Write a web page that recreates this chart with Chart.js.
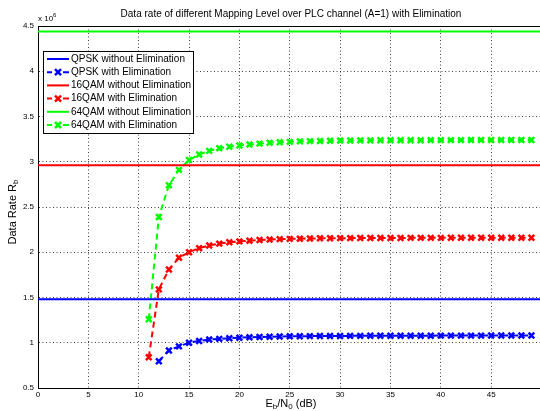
<!DOCTYPE html>
<html>
<head>
<meta charset="utf-8">
<script src="https://cdn.jsdelivr.net/npm/chart.js@4.4.1/dist/chart.umd.min.js"></script>
<style>
  html, body { margin: 0; padding: 0; background: #fff; overflow: hidden; }
  #wrap { width: 548px; height: 411px; }
</style>
</head>
<body>
<div id="wrap"><canvas id="chart" width="548" height="411"></canvas></div>
<script>
// Eb/N0 (dB) for the "with Elimination" curves
const ebn0 = [11, 12, 13, 14, 15, 16, 17, 18, 19, 20, 21, 22, 23, 24, 25, 26, 27, 28, 29, 30,
  31, 32, 33, 34, 35, 36, 37, 38, 39, 40, 41, 42, 43, 44, 45, 46, 47, 48, 49];

// data rate x 10^6
const qpskElim = [null, 0.795, 0.915, 0.96, 1.0, 1.02, 1.035, 1.043, 1.05, 1.056, 1.06, 1.064, 1.067,
  1.069, 1.071, 1.072, 1.073, 1.074, 1.075, 1.075, 1.076, 1.076, 1.077, 1.077, 1.077, 1.078, 1.078,
  1.078, 1.078, 1.079, 1.079, 1.079, 1.079, 1.079, 1.08, 1.08, 1.08, 1.08, 1.08];
const qam16Elim = [0.84, 1.59, 1.81, 1.94, 2.0, 2.045, 2.075, 2.095, 2.11, 2.12, 2.128, 2.135, 2.14,
  2.145, 2.148, 2.15, 2.152, 2.154, 2.155, 2.156, 2.156, 2.157, 2.157, 2.158, 2.158, 2.158, 2.159,
  2.159, 2.159, 2.159, 2.16, 2.16, 2.16, 2.16, 2.16, 2.16, 2.16, 2.16, 2.16];
const qam64Elim = [1.26, 2.39, 2.74, 2.91, 3.02, 3.08, 3.12, 3.15, 3.165, 3.18, 3.19, 3.2, 3.21,
  3.215, 3.22, 3.225, 3.228, 3.23, 3.232, 3.234, 3.235, 3.236, 3.236, 3.237, 3.237, 3.238, 3.238,
  3.238, 3.239, 3.239, 3.239, 3.239, 3.24, 3.24, 3.24, 3.24, 3.24, 3.24, 3.24];

// "without Elimination" levels (constant over the whole axis)
const noElimRange = [0, 50];
const qpskNoElim = [1.48, 1.48];
const qam16NoElim = [2.96, 2.96];
const qam64NoElim = [4.44, 4.44];

const xTicks = [0, 5, 10, 15, 20, 25, 30, 35, 40, 45];
const yTicks = [0.5, 1, 1.5, 2, 2.5, 3, 3.5, 4, 4.5];

const FONT = "'Liberation Sans', Arial, sans-serif";

const pts = (xs, ys) => xs.map((x, i) => ({ x: x, y: ys[i] }));

const solid = (label, color, ys) => ({
  label: label,
  data: pts(noElimRange, ys),
  borderColor: color,
  borderWidth: 2,
  pointRadius: 0,
  markerless: true,
});

const dashed = (label, color, ys) => ({
  label: label,
  data: pts(ebn0, ys),
  borderColor: color,
  borderWidth: 2,
  borderDash: [6, 4],
  pointStyle: "crossRot",
  pointRadius: 4,
  pointBorderWidth: 2.5,
  pointBorderColor: color,
  pointBackgroundColor: color,
});

const data = {
  datasets: [
    solid("QPSK without Elimination", "#0000ff", qpskNoElim),
    dashed("QPSK with Elimination", "#0000ff", qpskElim),
    solid("16QAM without Elimination", "#ff0000", qam16NoElim),
    dashed("16QAM with Elimination", "#ff0000", qam16Elim),
    solid("64QAM without Elimination", "#00ff00", qam64NoElim),
    dashed("64QAM with Elimination", "#00ff00", qam64Elim),
  ],
};

// title, axis labels, box and legend drawn by hand (subscripts, inside legend)
const decorations = {
  id: "decorations",
  afterDraw(chart) {
    const ctx = chart.ctx;
    const a = chart.chartArea;
    ctx.save();

    // top/right border of box
    ctx.strokeStyle = "#000";
    ctx.lineWidth = 1;
    ctx.setLineDash([]);
    ctx.beginPath();
    ctx.moveTo(a.left, a.top + 0.5);
    ctx.lineTo(a.right, a.top + 0.5);
    ctx.moveTo(a.right - 0.5, a.top);
    ctx.lineTo(a.right - 0.5, a.bottom);
    ctx.stroke();

    ctx.fillStyle = "#000";
    ctx.textBaseline = "middle";

    // title
    ctx.font = "10px " + FONT;
    ctx.textAlign = "center";
    ctx.fillText("Data rate of different Mapping Level over PLC channel (A=1) with Elimination", 291, 14);

    // exponent
    ctx.textAlign = "left";
    ctx.font = "8px " + FONT;
    ctx.fillText("x 10", 38, 19);
    ctx.font = "6px " + FONT;
    ctx.fillText("6", 53, 15);

    // x label: Eb/N0 (dB)
    const xl = [["E", 11, 0], ["b", 8, 3], ["/N", 11, 0], ["0", 8, 3], [" (dB)", 11, 0]];
    let w = 0;
    xl.forEach(([t, s]) => { ctx.font = s + "px " + FONT; w += ctx.measureText(t).width; });
    let x = 291 - w / 2;
    xl.forEach(([t, s, dy]) => {
      ctx.font = s + "px " + FONT;
      ctx.fillText(t, x, 404 + dy);
      x += ctx.measureText(t).width;
    });

    // y label: Data Rate Rb
    ctx.translate(13, 212);
    ctx.rotate(-Math.PI / 2);
    const yl = [["Data Rate R", 11, 0], ["b", 8, 3]];
    w = 0;
    yl.forEach(([t, s]) => { ctx.font = s + "px " + FONT; w += ctx.measureText(t).width; });
    x = -w / 2;
    yl.forEach(([t, s, dy]) => {
      ctx.font = s + "px " + FONT;
      ctx.fillText(t, x, dy);
      x += ctx.measureText(t).width;
    });
    ctx.setTransform(1, 0, 0, 1, 0, 0);

    // legend
    const bx = 43, by = 51, bw = 150, bh = 82, row = 13.2;
    ctx.fillStyle = "#fff";
    ctx.fillRect(bx, by, bw, bh);
    ctx.strokeStyle = "#000";
    ctx.lineWidth = 1;
    ctx.strokeRect(bx + 0.5, by + 0.5, bw, bh);
    ctx.font = "10px " + FONT;
    chart.data.datasets.forEach((ds, i) => {
      const y = by + 8 + i * row;
      ctx.strokeStyle = ds.borderColor;
      ctx.lineWidth = 2;
      ctx.beginPath();
      if (ds.markerless) {
        ctx.moveTo(47, y);
        ctx.lineTo(69, y);
      } else {
        ctx.moveTo(47, y);
        ctx.lineTo(52, y);
        ctx.moveTo(63, y);
        ctx.lineTo(69, y);
      }
      ctx.stroke();
      if (!ds.markerless) {
        ctx.lineWidth = 2.5;
        ctx.beginPath();
        ctx.moveTo(55, y - 3);
        ctx.lineTo(61, y + 3);
        ctx.moveTo(61, y - 3);
        ctx.lineTo(55, y + 3);
        ctx.stroke();
      }
      ctx.fillStyle = "#000";
      ctx.fillText(ds.label, 71, y);
    });

    ctx.restore();
  },
};

const gridOpts = {
  color: "rgba(0,0,0,0.75)",
  lineWidth: 1,
  drawTicks: false,
};

const config = {
  type: "line",
  data: data,
  plugins: [decorations],
  options: {
    responsive: false,
    animation: false,
    devicePixelRatio: 1,
    layout: {
      padding: { top: 26, left: 0, right: 5, bottom: 0 },
    },
    scales: {
      x: {
        type: "linear",
        min: 0,
        max: 50,
        afterBuildTicks: (s) => { s.ticks = xTicks.concat([50]).map((v) => ({ value: v })); },
        afterFit: (s) => { s.height = 23; },
        grid: gridOpts,
        border: { display: true, color: "#000", width: 1, dash: [1, 2.5] },
        ticks: {
          padding: 2,
          color: "#000",
          font: { family: FONT, size: 8 },
          maxRotation: 0,
          callback: (v) => (xTicks.includes(v) ? String(v) : ""),
        },
      },
      y: {
        min: 0.5,
        max: 4.5,
        afterBuildTicks: (s) => { s.ticks = yTicks.map((v) => ({ value: v })); },
        afterFit: (s) => { s.width = 38; },
        grid: gridOpts,
        border: { display: true, color: "#000", width: 1, dash: [1, 2.5] },
        ticks: {
          padding: 4,
          color: "#000",
          font: { family: FONT, size: 8 },
          callback: (v) => String(v),
        },
      },
    },
    plugins: {
      legend: { display: false },
      title: { display: false },
      tooltip: { enabled: false },
    },
  },
};

new Chart(document.getElementById("chart"), config);
</script>
</body>
</html>
